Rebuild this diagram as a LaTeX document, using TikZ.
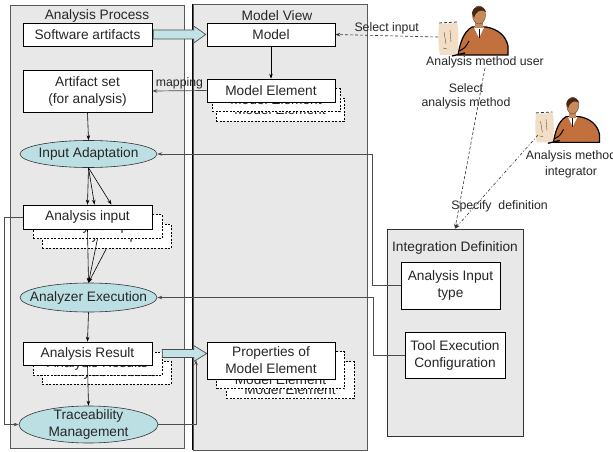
\documentclass[tikz,border=0pt]{standalone}
\usepackage{fontspec}
\setmainfont{Liberation Sans}
\usetikzlibrary{arrows.meta,shapes.geometric,calc}
\definecolor{panelgray}{HTML}{E8E8E8}
\definecolor{proccol}{HTML}{BCDFE3}
\definecolor{arrowcol}{HTML}{C2E2E8}
\definecolor{txt}{HTML}{262626}
\definecolor{suit}{HTML}{C2703E}
\definecolor{skin}{HTML}{C98A5A}
\definecolor{hair}{HTML}{4A2511}
\definecolor{screen}{HTML}{F0DFC6}
\newcommand\boxfont{\fontsize{13.7pt}{17pt}\selectfont}
\newcommand\lblfont{\fontsize{12.3pt}{14pt}\selectfont}
\tikzset{
  panel/.style={draw=black!65, fill=panelgray, line width=0.8pt, inner sep=0pt},
  title/.style={font=\boxfont, text=txt, inner sep=0pt},
  box/.style={draw=black, fill=white, line width=0.6pt, inner sep=0pt, align=center, font=\boxfont, text=txt},
  shadowbox/.style={box, dashed, dash pattern=on 2pt off 1.5pt},
  proc/.style={ellipse, draw=black!80, fill=proccol, line width=0.6pt, inner sep=0pt},
  plabel/.style={font=\boxfont, text=txt, align=center},
  lbl/.style={font=\lblfont, text=txt, align=center, inner sep=1pt},
  conn/.style={-{Stealth[length=5pt,width=3.5pt]}, line width=0.6pt, draw=black},
  feed/.style={conn, draw=black!70, line width=0.7pt},
  blockarrow/.style={draw=black!70, fill=arrowcol, line width=0.7pt},
  usage/.style={conn, draw=black!80, dash pattern=on 3pt off 2pt},
  worker/.pic={
    % monitor seen from the side
    \fill[screen] (1,2) .. controls (0,12) and (0,24) .. (2,33) -- (19,33) .. controls (21,22) and (21,10) .. (19,1) -- cycle;
    \draw[black!80, dash pattern=on 3pt off 2pt, line width=0.8pt] (1,1) -- (19,0);
    \draw[brown!60!black, line width=0.4pt] (6,10) -- (8,22) (12,8) -- (13,20) (5,26) -- (9,27);
    % suit
    \filldraw[fill=suit, draw=black, line width=1.2pt] (20,33) .. controls (22,22) and (25,10) .. (34,5) -- (48,5) .. controls (60,7) and (68,14) .. (70,24) -- (70,33) -- cycle;
    % shirt and tie
    \fill[white] (36,5.5) -- (46,5.5) -- (41,16) -- cycle;
    \draw[black, line width=0.6pt] (41,7) -- (41,16);
    % neck and head
    \fill[skin] (37,-1) rectangle (45,6);
    \filldraw[fill=skin, draw=black!70, line width=0.4pt] (41,-7) ellipse [x radius=6.5, y radius=9];
    \fill[hair] (34,-9) .. controls (35,-17) and (46,-18) .. (48,-10) .. controls (44,-13) and (38,-12) .. (36,-4) -- cycle;
    % arm on the keyboard
    \draw[black, line width=1pt] (31,19) .. controls (27,26) .. (21,29);
    \draw[black, line width=1.3pt] (14,34) -- (27,31);
  }
}
\begin{document}
\begin{tikzpicture}[x=1pt, y=-1pt]
\useasboundingbox (0,0) rectangle (613,452);
\fill[white] (0,0) rectangle (613,452);

% swimlanes
\node[panel, minimum width=174pt, minimum height=443pt] (ap) at (97,226.5) {};
\node[panel, minimum width=174pt, minimum height=446pt] (mv) at (280,227) {};
\draw[black, line width=0.8pt] (mv.north west) -- (mv.south west);
\node[panel, draw=black!80, minimum width=136pt, minimum height=207pt] (intdef) at (455,332.5) {};
\node[title] (aptitle) at (97,16) {Analysis Process};
\node[title] (mvtitle) at (277,16) {Model View};
\node[title] (idtitle) at (455,248) {Integration Definition};

% analysis process
\node[box, minimum width=129pt, minimum height=23pt] (sw) at (87.5,34.5) {Software artifacts};
\node[box, minimum width=129pt, minimum height=42pt] (art) at (87.5,91) {Artifact set\\(for analysis)};
\node[proc, minimum width=137pt, minimum height=27pt, label={[plabel]center:Input Adaptation}] (ia) at (88.5,154) {};
\node[shadowbox, minimum width=129pt, minimum height=24pt] (ain2) at (106.5,236) {Analysis input};
\node[shadowbox, minimum width=129pt, minimum height=24pt] (ain1) at (97.5,226.5) {Analysis input};
\node[box, minimum width=129pt, minimum height=24pt] (ain) at (87.5,217) {Analysis input};
\node[proc, minimum width=137pt, minimum height=29pt, label={[plabel]center:Analyzer Execution}] (ae) at (88.5,297.5) {};
\node[shadowbox, minimum width=129pt, minimum height=23pt] (res2) at (106.5,372.5) {Analysis Results};
\node[shadowbox, minimum width=129pt, minimum height=23pt] (res1) at (97.5,363.5) {Analysis Results};
\node[box, minimum width=129pt, minimum height=23pt] (res) at (87.5,353.5) {Analysis Result};
\node[proc, minimum width=139pt, minimum height=37pt, label={[plabel]center:Traceability\\Management}] (tm) at (88.5,424.5) {};

% model view
\node[box, minimum width=128pt, minimum height=23pt] (model) at (271,34.5) {Model};
\node[shadowbox, minimum width=128pt, minimum height=23pt] (me2) at (280,109.5) {Model Element};
\node[shadowbox, minimum width=128pt, minimum height=23pt] (me1) at (276,100) {Model Element};
\node[box, minimum width=128pt, minimum height=23pt] (me) at (271,90.5) {Model Element};
\node[shadowbox, minimum width=128pt, minimum height=37pt] (prop2) at (290,380) {\strut\\Model Element};
\node[shadowbox, minimum width=128pt, minimum height=37pt] (prop1) at (280.5,370) {\strut\\Model Element};
\node[box, minimum width=128pt, minimum height=37pt] (prop) at (271,360.5) {Properties of\\Model Element};

% integration definition
\node[box, minimum width=99pt, minimum height=47pt] (ait) at (450.5,285.5) {Analysis Input\\type};
\node[box, minimum width=100pt, minimum height=46pt] (tec) at (455,355) {Tool Execution\\Configuration};

% process flow
\draw[conn] (model.south) -- (me.north);
\draw[feed] (me.west) -- node[lbl, above] (maplbl) {mapping} (art.east);
\draw[conn] (art.south) -- (ia.north);
\draw[conn] (ia.south) -- (ain.north);
\draw[conn] (ia.south) -- ($(ain.north)+(7,0)$);
\draw[conn] (ia.south) -- ($(ain.north)+(24,0)$);
\draw[conn] (ain.south) -- (ae.north);
\draw[conn] (ain1.south) -- (ae.north);
\draw[conn] (ain2.south) -- (ae.north);
\draw[conn] (ae.south) -- (res.north);
\draw[conn] (res.south) -- (tm.north);

% traceability links
\draw[feed] (ain.west) -- ++(-18,0) |- (tm.west);
\coordinate (tmtip) at (196,360);
\draw[feed] (tm.east) -| (tmtip);

% definitions feeding the process
\draw[feed] (ait.west) -- ++(-28,0) |- (ia.east);
\draw[feed] (tec.west) -- ++(-31,0) |- (ae.east);

% transformation arrows into the model view
\draw[blockarrow] ($(sw.east)+(1,4.5)$) -- ($(model.west)+(-13,4.5)$) -- ($(model.west)+(-13,8.5)$)
  -- ($(model.west)+(-1,0)$) -- ($(model.west)+(-13,-8.5)$) -- ($(model.west)+(-13,-4.5)$)
  -- ($(sw.east)+(1,-4.5)$) -- cycle;
\coordinate (rtip) at (prop.west |- res.east);
\coordinate (rtail) at (res1.east |- res.east);
\draw[blockarrow] ($(rtail)+(0,4)$) -- ($(rtip)+(-13,4)$) -- ($(rtip)+(-13,8)$)
  -- ($(rtip)+(0,0)$) -- ($(rtip)+(-13,-8)$) -- ($(rtip)+(-13,-4)$)
  -- ($(rtail)+(0,-4)$) -- cycle;

% actors
\pic at (438,22) {worker};
\pic[scale=0.92] at (535,112) {worker};
\coordinate (userpc) at (438,37);
\coordinate (intpc) at (538,135);
\node[lbl, inner sep=0pt] (userlbl) at (485,62) {Analysis method user};
\node[lbl, inner sep=0pt, font=\fontsize{12.3pt}{16pt}\selectfont] (intlbl) at (571,164) {Analysis method\\integrator};

\draw[usage] (userpc) -- node[lbl, above] (sellbl) {Select input} (model.east);
\draw[usage] (userlbl.south) -- (intdef.north);
\draw[usage, dash pattern=on 3pt off 2pt on 1pt off 2pt] (intpc) -- (intdef.north);
\node[lbl] (methlbl) at (466,96) {Select\\analysis method};
\node[lbl] (speclbl) at (499.5,206) {Specify\ \ definition};
\end{tikzpicture}
\end{document}
